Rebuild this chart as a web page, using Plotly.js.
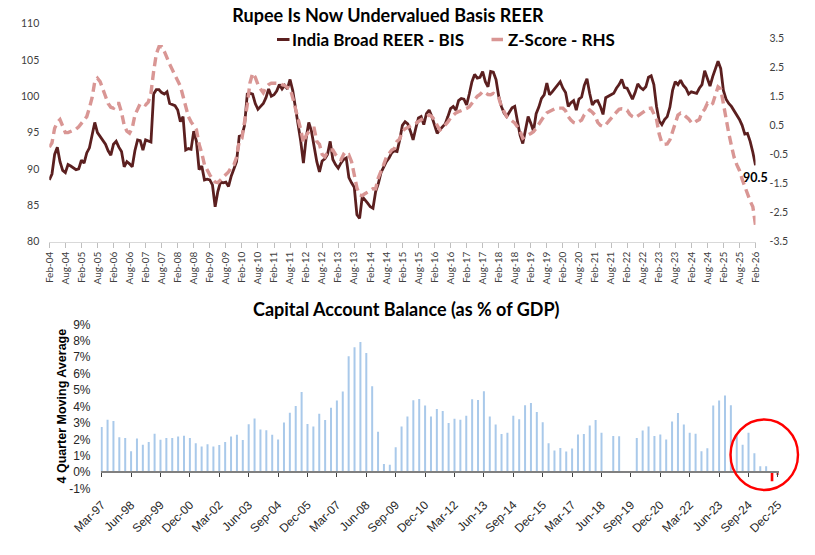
<!DOCTYPE html>
<html>
<head>
<meta charset="utf-8">
<script src="https://cdn.plot.ly/plotly-3.0.1.min.js"></script>
<style>
  html, body { margin: 0; padding: 0; background: #ffffff; }
  #chart { width: 815px; height: 555px; }
</style>
</head>
<body>
<div id="chart"></div>
<script>
// India Broad REER (BIS), monthly Feb-04 .. Feb-26, one row per Feb..Jan year
const reer = [
  88.5, 89.3, 92.0, 93.0, 91.0, 89.8, 89.5, 90.6, 90.4, 90.1, 89.9, 90.0,
  91.2, 90.8, 92.2, 92.9, 94.5, 96.4, 95.0, 94.5, 94.0, 93.4, 92.5, 91.9,
  93.4, 93.8, 93.0, 92.4, 90.3, 91.0, 90.7, 90.3, 92.5, 94.0, 93.9, 92.6,
  94.0, 93.8, 93.7, 100.3, 100.9, 100.9, 100.5, 100.3, 100.6, 99.0, 98.9, 98.7,
  98.1, 96.5, 97.2, 92.6, 92.8, 92.7, 95.2, 93.8, 89.9, 90.4, 88.5, 88.6,
  88.5, 87.8, 84.8, 86.9, 88.2, 88.1, 88.2, 87.6, 89.0, 90.0, 91.0, 94.5,
  94.6, 96.0, 100.3, 100.4, 100.3, 99.0, 98.2, 98.6, 99.0, 99.8, 101.0, 100.0,
  100.2, 100.7, 101.6, 101.0, 101.5, 101.0, 102.3, 100.8, 98.5, 96.5, 93.8, 90.8,
  94.2, 96.4, 95.2, 93.1, 91.0, 89.6, 91.1, 91.4, 92.0, 93.8, 91.3, 90.6,
  90.1, 90.8, 91.3, 91.5, 88.8, 88.1, 87.5, 83.7, 83.2, 86.2, 85.8, 85.3,
  84.8, 84.6, 86.9, 88.0, 89.5, 90.3, 91.0, 91.5, 92.2, 92.5, 92.4, 94.0,
  96.0, 96.5, 96.2, 95.2, 94.0, 95.6, 97.0, 97.2, 96.1, 97.6, 98.1, 97.2,
  96.0, 94.9, 95.4, 95.8, 96.2, 97.2, 98.3, 98.6, 98.1, 99.4, 99.7, 99.6,
  98.8, 100.3, 102.0, 103.0, 102.5, 102.6, 103.4, 102.0, 101.3, 103.4, 103.3, 102.3,
  100.0, 98.6, 97.7, 97.2, 97.8, 98.4, 98.6, 96.3, 94.6, 93.5, 95.6, 97.2,
  96.3, 95.2, 97.6, 98.5, 99.7, 100.2, 101.8, 100.2, 100.6, 101.1, 101.6, 102.0,
  101.1, 100.5, 98.6, 99.1, 99.4, 98.1, 99.6, 99.9, 101.5, 102.4, 100.4, 98.8,
  99.3, 99.4, 98.6, 97.5, 99.8, 100.0, 100.1, 100.4, 101.1, 101.6, 102.3, 101.2,
  101.1, 100.3, 99.6, 100.5, 101.7, 101.2, 100.9, 101.3, 102.6, 102.8, 101.6, 98.6,
  96.6, 96.1, 96.8, 97.2, 98.5, 100.8, 102.0, 101.6, 102.2, 101.5, 101.1, 100.3,
  100.6, 100.5, 100.4, 101.1, 101.6, 103.5, 102.4, 101.4, 102.7, 103.9, 104.8, 103.8,
  100.8, 99.6, 99.0, 98.6, 98.0, 97.3, 96.8, 96.0, 94.8, 94.9, 93.8, 92.3,
  90.5
];

// REER Z-score (right-hand scale), same months
const zScore = [
  -0.25, -0.1, 0.4, 0.6, 0.7, 0.5, 0.25, 0.25, 0.28, 0.32, 0.37, 0.45,
  0.57, 0.68, 0.8, 1.1, 1.45, 2.0, 2.12, 2.0, 1.78, 1.5, 1.25, 1.12,
  1.09, 1.25, 1.25, 0.95, 0.5, 0.3, 0.23, 0.4, 0.85, 1.05, 1.25, 1.25,
  1.2, 1.3, 1.6, 2.35, 2.95, 3.2, 3.2, 3.04, 2.8, 2.6, 2.41, 2.2,
  2.06, 1.85, 1.5, 1.1, 0.8, 0.62, 0.5, 0.35, -0.15, -0.45, -0.85, -1.05,
  -1.2, -1.35, -1.45, -1.47, -1.38, -1.28, -1.18, -1.1, -0.95, -0.86, -0.6, -0.05,
  0.05, 0.6, 1.2, 1.95, 2.29, 2.15, 1.9, 1.75, 1.62, 1.8, 1.9, 1.95,
  1.95, 1.95, 1.94, 1.9, 1.87, 1.8, 1.78, 1.45, 1.1, 0.8, 0.35, -0.1,
  0.15, 0.28, 0.4, 0.4, -0.05, -0.15, -0.5, -0.58, -0.42, -0.35, -0.35, -0.5,
  -0.62, -0.69, -0.5, -0.58, -0.52, -0.75, -1.15, -1.65, -1.9, -1.92, -1.85, -1.78,
  -1.74, -1.68, -1.68, -1.3, -1.03, -0.85, -0.6, -0.45, -0.35, -0.3, -0.05, 0.03,
  0.3, 0.38, 0.42, 0.46, 0.5, 0.57, 0.63, 0.69, 0.75, 0.8, 0.86, 0.8,
  0.69, 0.5, 0.34, 0.4, 0.5, 0.62, 0.75, 0.86, 0.93, 0.97, 1.0, 1.03,
  1.08, 1.14, 1.25, 1.37, 1.5, 1.56, 1.66, 1.62, 1.56, 1.55, 1.6, 1.55,
  1.45, 1.15, 0.95, 0.8, 0.72, 0.65, 0.58, 0.45, 0.3, 0.06, 0.1, 0.17,
  0.22, 0.28, 0.4, 0.55, 0.7, 0.82, 0.93, 0.98, 1.05, 1.07, 1.09, 1.09,
  1.09, 1.0, 0.8, 0.68, 0.6, 0.57, 0.62, 0.68, 0.86, 0.95, 1.03, 0.95,
  0.85, 0.6, 0.5, 0.46, 0.52, 0.63, 0.75, 0.85, 0.95, 1.05, 1.07, 1.06,
  1.02, 0.88, 0.8, 0.76, 0.82, 0.9, 0.96, 1.02, 1.08, 1.09, 0.9, 0.7,
  0.2, -0.1, -0.15, -0.14, 0.0, 0.3, 0.6, 0.85, 0.92, 0.88, 0.8, 0.72,
  0.6, 0.57, 0.65, 0.7, 0.95, 1.05, 1.25, 1.18, 1.25, 1.5, 1.82, 1.75,
  1.2, 0.7, 0.23, -0.2, -0.6, -0.85, -1.05, -1.35, -1.6, -1.9, -2.1, -2.3,
  -2.93
];

const reerTickLabels = [
  'Feb-04','Aug-04','Feb-05','Aug-05','Feb-06','Aug-06','Feb-07','Aug-07',
  'Feb-08','Aug-08','Feb-09','Aug-09','Feb-10','Aug-10','Feb-11','Aug-11',
  'Feb-12','Aug-12','Feb-13','Aug-13','Feb-14','Aug-14','Feb-15','Aug-15',
  'Feb-16','Aug-16','Feb-17','Aug-17','Feb-18','Aug-18','Feb-19','Aug-19',
  'Feb-20','Aug-20','Feb-21','Aug-21','Feb-22','Aug-22','Feb-23','Aug-23',
  'Feb-24','Aug-24','Feb-25','Aug-25','Feb-26'
];

// Capital account balance, % of GDP, 4-quarter moving average, Mar-97 .. Dec-25
const capBalance = [
  2.75, 3.2, 3.12, 2.13, 2.09, 1.28, 2.05, 1.68, 1.84, 2.35,
  1.98, 2.09, 2.08, 2.18, 2.22, 2.09, 1.77, 1.56, 1.7, 1.57,
  1.66, 1.84, 2.18, 2.28, 1.96, 2.92, 3.27, 2.6, 2.56, 2.28,
  1.99, 3.03, 3.62, 4.03, 4.88, 2.94, 2.79, 3.56, 3.18, 3.92,
  4.37, 4.91, 7.06, 7.61, 7.93, 7.26, 5.23, 2.46, 0.51, 0.45,
  1.52, 2.78, 3.39, 4.38, 4.45, 4.06, 3.39, 3.85, 3.73, 3.0,
  3.25, 3.2, 3.43, 4.44, 4.4, 4.93, 3.39, 2.9, 2.33, 2.41,
  3.43, 3.23, 4.08, 4.22, 3.67, 3.04, 1.76, 1.32, 1.48, 1.26,
  1.44, 2.29, 2.33, 2.84, 3.18, 2.41, null, 2.21, 2.19, null,
  null, 2.09, 2.54, 2.78, 2.21, 2.29, 2.0, 3.08, 3.61, 2.9,
  2.41, 2.35, 1.28, 1.46, 4.06, 4.36, 4.67, 4.08, 2.29, 1.68,
  2.41, 1.16, 0.37, 0.37, -0.55, -0.16
];

const capTickLabels = [
  'Mar-97','Jun-98','Sep-99','Dec-00','Mar-02','Jun-03','Sep-04','Dec-05',
  'Mar-07','Jun-08','Sep-09','Dec-10','Mar-12','Jun-13','Sep-14','Dec-15',
  'Mar-17','Jun-18','Sep-19','Dec-20','Mar-22','Jun-23','Sep-24','Dec-25'
];

const capYTicks = [-1, 0, 1, 2, 3, 4, 5, 6, 7, 8, 9];
const reerYTicks = [80, 85, 90, 95, 100, 105, 110];
const zYTicks = [-3.5, -2.5, -1.5, -0.5, 0.5, 1.5, 2.5, 3.5];

// ---- page geometry (pixels of the 815x555 canvas) ----
const W = 815, H = 555;
const px = v => v / W;
const py = v => 1 - v / H;

const monthIdx = reer.map((_, i) => i);
const quarterIdx = capBalance.map((_, i) => i);

const maroon = '#5b1f1f';
const pink = '#d99694';
const blue = '#a9c9ea';

const traces = [
  {
    x: monthIdx, y: reer, type: 'scatter', mode: 'lines',
    name: 'India Broad REER - BIS', xaxis: 'x', yaxis: 'y',
    line: { color: maroon, width: 2.8 }, hoverinfo: 'skip'
  },
  {
    x: monthIdx, y: zScore, type: 'scatter', mode: 'lines',
    name: 'Z-Score - RHS', xaxis: 'x', yaxis: 'y2',
    line: { color: pink, width: 3.4, dash: '9px,5px' }, hoverinfo: 'skip'
  },
  {
    x: quarterIdx, y: capBalance, type: 'bar',
    name: 'Capital Account Balance', xaxis: 'x2', yaxis: 'y3',
    width: capBalance.map(v => (v !== null && v < 0) ? 0.45 : 0.34),
    marker: {
      color: capBalance.map(v => (v !== null && v < 0) ? '#ff0000' : blue),
      line: { width: 0 }
    },
    hoverinfo: 'skip'
  }
];

const fontLato = 'Lato, "Open Sans", sans-serif';
const fontArial = '"Liberation Sans", Arial, sans-serif';

// bottom panel vertical geometry; x axis crosses at 0 %
const capYDom = [py(488.7), py(324.3)];
const capRange = [-1, 9];
const zeroPos = capYDom[0] + (capYDom[1] - capYDom[0]) * (0 - capRange[0]) / (capRange[1] - capRange[0]);

const lastIdx = reer.length - 1;

const layout = {
  width: W, height: H,
  margin: { l: 0, r: 0, t: 0, b: 0 },
  paper_bgcolor: '#ffffff', plot_bgcolor: 'rgba(0,0,0,0)',
  showlegend: false,
  font: { family: fontLato, color: '#404040' },
  title: {
    text: '<b>Rupee Is Now Undervalued Basis REER</b>',
    font: { family: fontLato, size: 18, color: '#000000' },
    xref: 'container', yref: 'container',
    x: px(388), xanchor: 'center', y: py(15.5), yanchor: 'middle'
  },
  xaxis: {
    domain: [px(49.3), px(755.5)], range: [0, 264], anchor: 'y',
    tickvals: reerTickLabels.map((_, i) => i * 6), ticktext: reerTickLabels,
    tickangle: -90, ticks: 'outside', ticklen: 5, tickcolor: '#bfbfbf',
    showline: true, linecolor: '#d9d9d9', linewidth: 1,
    showgrid: false, zeroline: false,
    tickfont: { family: fontLato, size: 10, color: '#404040' }
  },
  yaxis: {
    domain: [py(241.7), py(23.5)], range: [80, 110], anchor: 'x',
    tickvals: reerYTicks, ticktext: reerYTicks.map(String),
    showgrid: false, zeroline: false, showline: false, ticks: '',
    ticklabelstandoff: 9,
    tickfont: { family: fontLato, size: 10.5, color: '#404040' }
  },
  yaxis2: {
    overlaying: 'y', side: 'right', anchor: 'x', range: [-3.5, 4.0],
    tickvals: zYTicks, ticktext: zYTicks.map(v => v.toFixed(1)),
    showgrid: false, zeroline: false, showline: false, ticks: '',
    ticklabelstandoff: 13,
    tickfont: { family: fontLato, size: 10.5, color: '#404040' }
  },
  xaxis2: {
    domain: [px(100.5), px(778.5)], range: [-0.2, 115.1],
    anchor: 'free', position: zeroPos,
    tickvals: capTickLabels.map((_, i) => i * 5), ticktext: capTickLabels,
    tickangle: -45, ticks: 'outside', ticklen: 4, tickcolor: '#404040', tickwidth: 1,
    showline: true, linecolor: '#808080', linewidth: 2,
    showgrid: false, zeroline: false,
    ticklabelstandoff: 16,
    tickfont: { family: fontArial, size: 12, color: '#262626' }
  },
  yaxis3: {
    domain: capYDom, range: capRange, anchor: 'x2',
    tickvals: capYTicks, ticktext: capYTicks.map(v => v + '%'),
    showgrid: false, zeroline: false, showline: false, ticks: '',
    ticklabelstandoff: 9,
    tickfont: { family: fontArial, size: 12, color: '#262626' }
  },
  annotations: [
    {
      xref: 'x', yref: 'y', x: lastIdx, y: reer[lastIdx],
      text: '<b>' + reer[lastIdx].toFixed(1) + '</b>', showarrow: false,
      xanchor: 'center', yanchor: 'top', xshift: 0, yshift: -3,
      font: { family: fontLato, size: 12.5, color: '#000000' }
    },
    {
      xref: 'paper', yref: 'paper', x: px(290), y: py(39.5),
      text: '<b>India Broad REER - BIS</b>', showarrow: false,
      xanchor: 'left', yanchor: 'middle',
      font: { family: fontLato, size: 17, color: '#000000' }
    },
    {
      xref: 'paper', yref: 'paper', x: px(506), y: py(39.5),
      text: '<b>Z-Score - RHS</b>', showarrow: false,
      xanchor: 'left', yanchor: 'middle',
      font: { family: fontLato, size: 17, color: '#000000' }
    },
    {
      xref: 'paper', yref: 'paper', x: px(406), y: py(309),
      text: '<b>Capital Account Balance (as % of GDP)</b>', showarrow: false,
      xanchor: 'center', yanchor: 'middle',
      font: { family: fontLato, size: 18, color: '#000000' }
    },
    {
      xref: 'paper', yref: 'paper', x: px(61.5), y: py(406),
      text: '<b>4 Quarter Moving Average</b>', showarrow: false, textangle: -90,
      xanchor: 'center', yanchor: 'middle',
      font: { family: fontArial, size: 12.5, color: '#000000' }
    }
  ],
  shapes: [
    // legend line samples
    { type: 'line', xref: 'paper', yref: 'paper',
      x0: px(277), x1: px(289.5), y0: py(39.5), y1: py(39.5),
      line: { color: maroon, width: 3 } },
    { type: 'line', xref: 'paper', yref: 'paper',
      x0: px(491.5), x1: px(503), y0: py(39.5), y1: py(39.5),
      line: { color: pink, width: 3.5 } },
    // highlight ring around the latest quarters
    { type: 'circle', xref: 'paper', yref: 'paper',
      x0: px(730.5), x1: px(798), y0: py(490), y1: py(419.5),
      line: { color: '#ff0000', width: 2.4 } }
  ]
};

Plotly.newPlot('chart', traces, layout, { staticPlot: true, displayModeBar: false });
</script>
</body>
</html>
